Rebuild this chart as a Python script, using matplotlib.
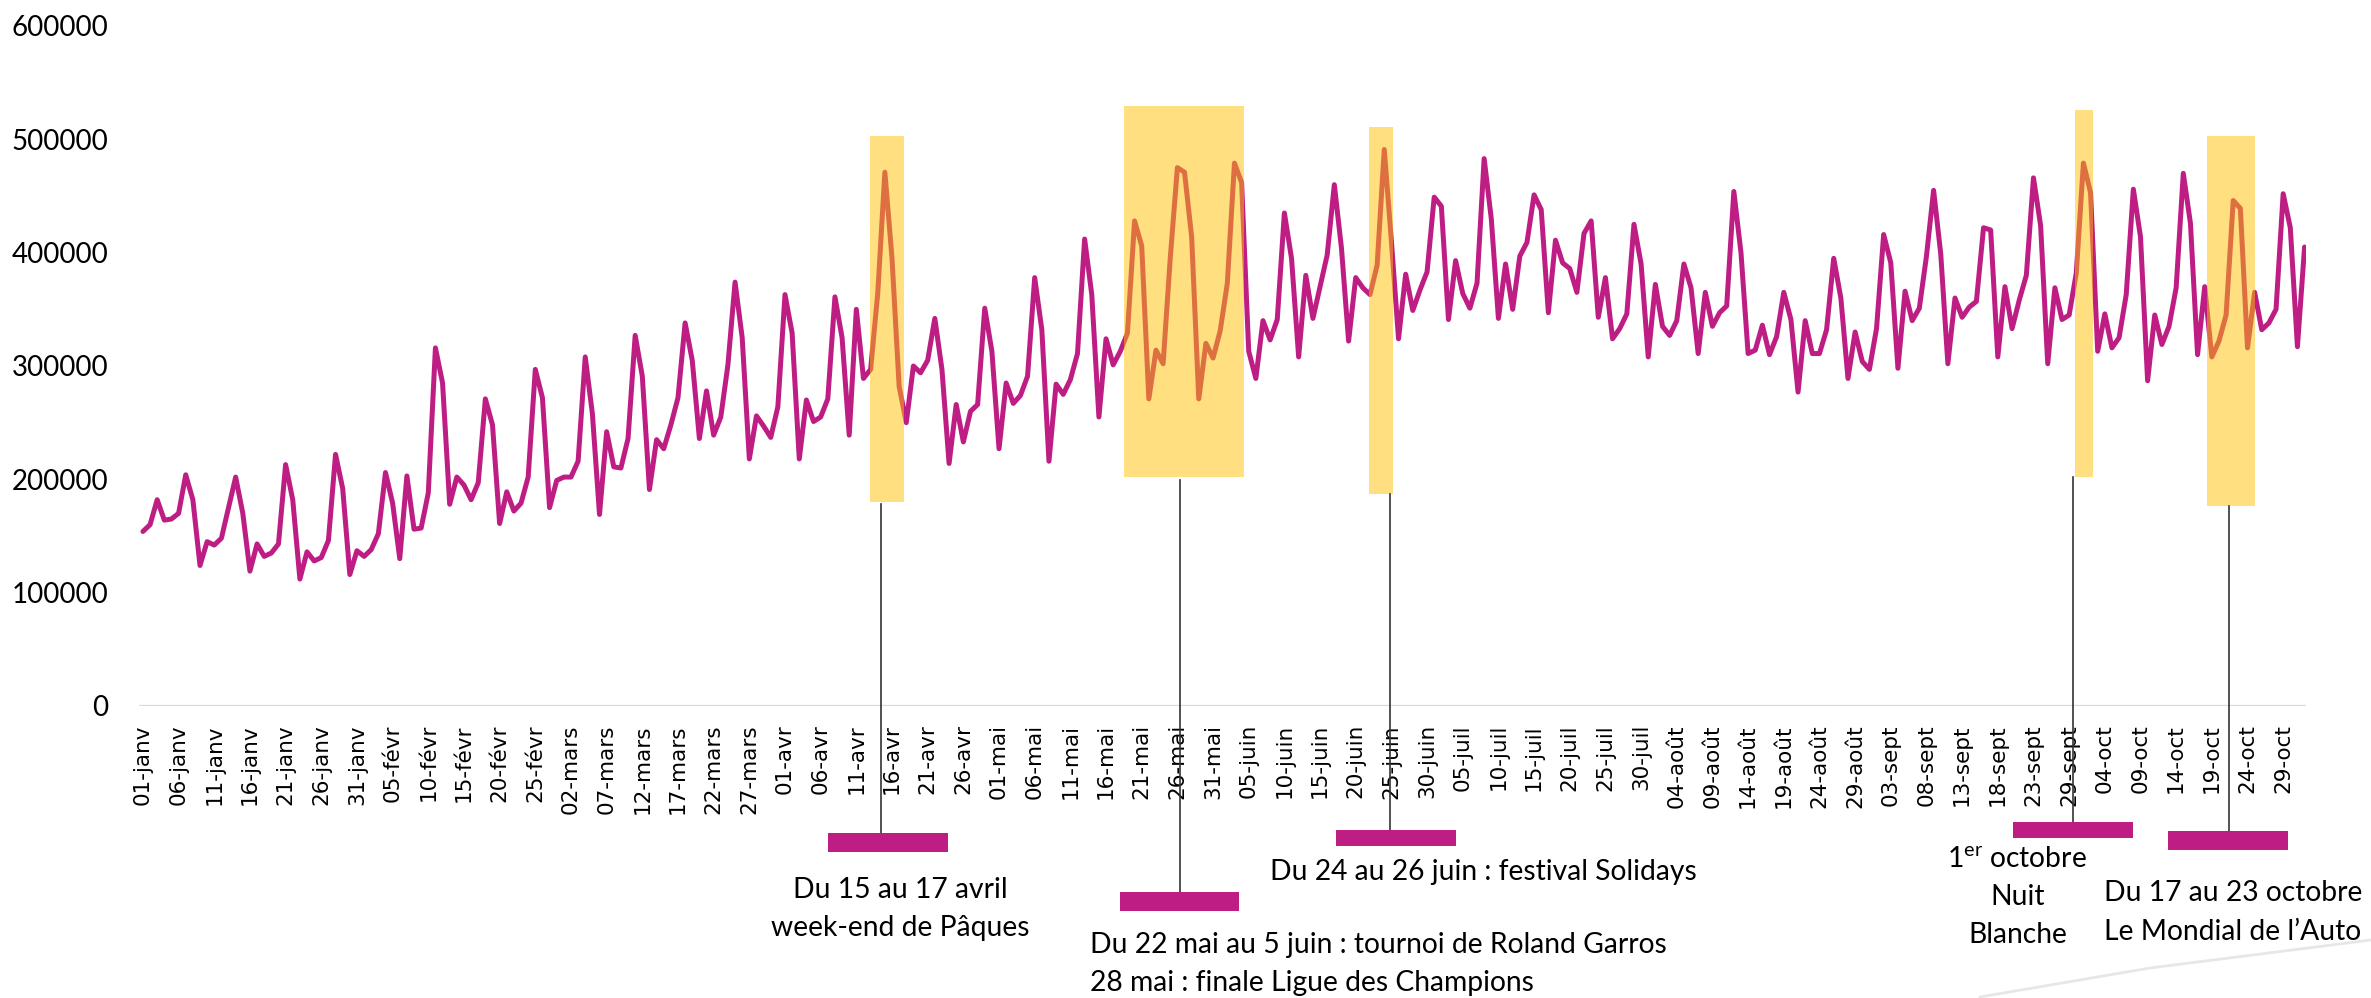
import matplotlib.pyplot as plt
from matplotlib.patches import Rectangle
from matplotlib.lines import Line2D
from matplotlib.transforms import blended_transform_factory

plt.rcParams['mathtext.fontset'] = 'custom'
plt.rcParams['mathtext.rm'] = 'Lato'

# daily values (thousands), 01-janv .. 01-nov (one day missing end of sept)
valeurs = [
    154, 160, 182, 164, 165, 170, 204, 182, 124, 145, 142, 148, 175, 202, 170, 119,
    143, 132, 135, 143, 213, 182, 112, 136, 128, 131, 146, 222, 192, 116, 137, 132,
    138, 152, 206, 179, 130, 203, 156, 157, 188, 316, 285, 178, 202, 195, 182, 197,
    271, 248, 161, 189, 172, 179, 202, 297, 272, 175, 199, 202, 202, 216, 308, 258,
    169, 242, 211, 210, 236, 327, 291, 191, 235, 227, 248, 272, 338, 305, 236, 278,
    239, 255, 301, 374, 325, 218, 256, 247, 237, 264, 363, 329, 218, 270, 251, 255,
    271, 361, 325, 239, 350, 289, 297, 364, 471, 395, 282, 250, 300, 294, 305, 342,
    297, 214, 266, 233, 260, 266, 351, 313, 227, 285, 267, 274, 291, 378, 332, 216,
    284, 275, 288, 311, 412, 363, 255, 324, 301, 313, 329, 428, 406, 271, 314, 302,
    395, 475, 471, 414, 271, 320, 307, 331, 373, 479, 462, 313, 289, 340, 323, 341,
    435, 395, 308, 380, 342, 370, 398, 460, 404, 322, 378, 369, 363, 389, 491, 410,
    324, 381, 349, 367, 383, 449, 441, 341, 393, 364, 351, 373, 483, 430, 342, 390,
    350, 397, 409, 451, 438, 347, 411, 391, 386, 365, 417, 428, 343, 378, 324, 333,
    346, 425, 390, 308, 372, 335, 327, 340, 390, 369, 311, 365, 335, 347, 353, 454,
    400, 311, 314, 336, 310, 326, 365, 341, 277, 340, 311, 311, 332, 395, 360, 289,
    330, 304, 297, 333, 416, 391, 298, 366, 340, 351, 397, 455, 399, 302, 360, 343,
    352, 357, 422, 420, 308, 370, 333, 358, 380, 466, 424, 302, 369, 341, 345, 382,
    479, 453, 313, 346, 316, 325, 363, 456, 414, 287, 345, 319, 335, 369, 470, 426,
    310, 370, 308, 322, 345, 446, 439, 316, 365, 332, 338, 350, 452, 422, 317, 405,
]
valeurs = [v * 1000 for v in valeurs]

tick_labels = [
    '01-janv', '06-janv', '11-janv', '16-janv', '21-janv', '26-janv', '31-janv',
    '05-févr', '10-févr', '15-févr', '20-févr', '25-févr',
    '02-mars', '07-mars', '12-mars', '17-mars', '22-mars', '27-mars',
    '01-avr', '06-avr', '11-avr', '16-avr', '21-avr', '26-avr',
    '01-mai', '06-mai', '11-mai', '16-mai', '21-mai', '26-mai', '31-mai',
    '05-juin', '10-juin', '15-juin', '20-juin', '25-juin', '30-juin',
    '05-juil', '10-juil', '15-juil', '20-juil', '25-juil', '30-juil',
    '04-août', '09-août', '14-août', '19-août', '24-août', '29-août',
    '03-sept', '08-sept', '13-sept', '18-sept', '23-sept', '29-sept',
    '04-oct', '09-oct', '14-oct', '19-oct', '24-oct', '29-oct',
]

# highlighted periods: (first day index, last day index, low, high)
zones = [
    (101.9, 106.7, 180000, 503000),
    (137.5, 154.4, 202000, 529000),
    (171.8, 175.2, 187000, 511000),
    (270.8, 273.3, 202000, 526000),
    (289.3, 296.1, 176500, 503000),
]
# leader line x (day index), top px, bottom px ; bar centre, bar top/bottom px
leaders = [
    (103.4, 504, 833, 104.4, 833, 852),
    (145.3, 480, 892, 145.3, 892, 911),
    (174.8, 494, 830, 175.7, 830, 846),
    (270.6, 477, 822, 270.5, 822, 838),
    (292.4, 506, 831, 292.3, 831, 850),
]

W, H = 2371, 998
MAGENTA = '#BE1E84'

fig = plt.figure(figsize=(W / 100, H / 100), dpi=100)
ax = fig.add_axes([139 / W, 1 - 706 / H, (2306 - 139) / W, (706 - 26) / H])

x = list(range(len(valeurs)))
ax.plot(x, valeurs, color=MAGENTA, lw=3.6, solid_joinstyle='round',
        solid_capstyle='round', zorder=2)
ax.axhline(0, color='#D9D9D9', lw=1.6, zorder=1)

for x0, x1, y0, y1 in zones:
    ax.add_patch(Rectangle((x0, y0), x1 - x0, y1 - y0, facecolor='#FFC000',
                           alpha=0.5, edgecolor='none', zorder=3))

ax.set_xlim(-0.55, 303.2)
ax.set_ylim(0, 600000)
ax.set_yticks(range(0, 600001, 100000))
ax.set_yticklabels([str(v) for v in range(0, 600001, 100000)],
                   fontfamily='Lato', fontsize=20)
ax.set_xticks(range(0, 301, 5))
ax.set_xticklabels(tick_labels, rotation=90, fontfamily='DejaVu Sans', fontsize=15.5)
ax.tick_params(axis='y', length=0, pad=22)
ax.tick_params(axis='x', length=0, pad=13)
for s in ax.spines.values():
    s.set_visible(False)

tr = blended_transform_factory(ax.transData, fig.transFigure)
for lx, ytop, ybot, bx, btop, bbot in leaders:
    ax.plot([lx, lx], [1 - ytop / H, 1 - ybot / H], color='#333333', lw=1.2,
            transform=tr, clip_on=False, zorder=4)
    ax.add_patch(Rectangle((bx - 8.4, 1 - bbot / H), 16.8, (bbot - btop) / H,
                           facecolor=MAGENTA, edgecolor='none', transform=tr,
                           clip_on=False, zorder=5))


def note(px, py, s, ha='left'):
    fig.text(px / W, 1 - py / H, s, ha=ha, va='center', fontsize=20.3,
             fontfamily='Lato', color='black')


note(900, 890, 'Du 15 au 17 avril', ha='center')
note(900, 928, 'week-end de Pâques', ha='center')
note(1090, 945, 'Du 22 mai au 5 juin : tournoi de Roland Garros')
note(1090, 983, '28 mai : finale Ligue des Champions')
note(1270, 872, 'Du 24 au 26 juin : festival Solidays')
note(2017, 860, r'1$^{\mathrm{er}}$ octobre', ha='center')
note(2018, 897, 'Nuit', ha='center')
note(2018, 935, 'Blanche', ha='center')
note(2104, 893, 'Du 17 au 23 octobre')
note(2104, 932, 'Le Mondial de l’Auto')

# faint decorative swoosh, bottom right
fig.add_artist(Line2D([1980 / W, 2150 / W, 2371 / W],
                      [1 - 997 / H, 1 - 968 / H, 1 - 940 / H],
                      color='#DDDDDD', lw=2, alpha=0.7))

fig.savefig('out.png', dpi=100)
